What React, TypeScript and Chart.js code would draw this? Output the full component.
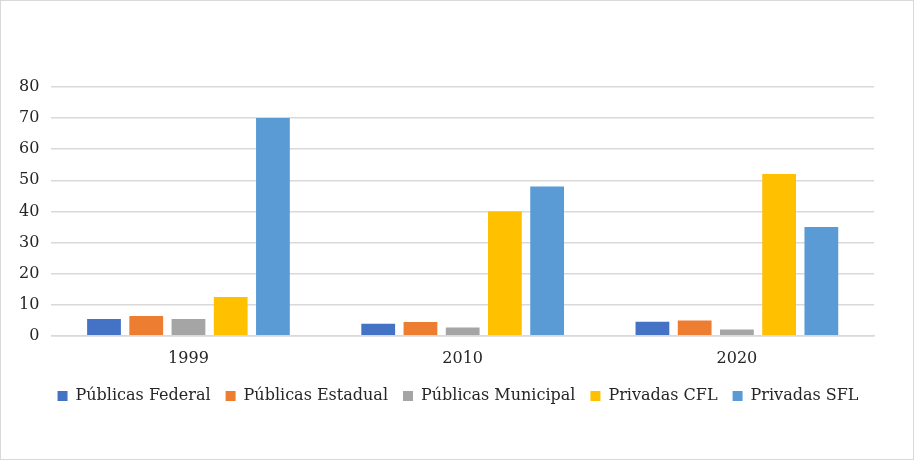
import React, { useEffect, useRef } from "react";
import { Chart, registerables } from "chart.js";

Chart.register(...registerables);

const categories = ["1999", "2010", "2020"];
const seriesNames = ["Públicas Federal", "Públicas Estadual", "Públicas Municipal", "Privadas CFL", "Privadas SFL"];
const publicasFederal = [5.4, 3.9, 4.5];
const publicasEstadual = [6.4, 4.4, 4.9];
const publicasMunicipal = [5.4, 2.7, 2.0];
const privadasCFL = [12.5, 40, 52];
const privadasSFL = [70, 48, 35];
const seriesColors = ["#4472c4", "#ed7d31", "#a5a5a5", "#ffc000", "#5b9bd5"];
const yTicks = [0, 10, 20, 30, 40, 50, 60, 70, 80];

export default function App() {
  const ref = useRef<HTMLCanvasElement | null>(null);
  useEffect(() => {
    if (!ref.current) return;
    const values = [publicasFederal, publicasEstadual, publicasMunicipal, privadasCFL, privadasSFL];
    const font = { family: "'DejaVu Serif', serif", size: 16 };
    const chart = new Chart(ref.current, {
      type: "bar",
      data: {
        labels: categories,
        datasets: seriesNames.map((name, i) => ({
          label: name,
          data: values[i],
          backgroundColor: seriesColors[i],
          borderWidth: 0,
          categoryPercentage: 0.77,
          barPercentage: 0.8,
        })),
      },
      options: {
        animation: false,
        responsive: false,
        layout: { padding: { top: 86, right: 4, left: 6, bottom: 45 } },
        plugins: {
          tooltip: { enabled: false },
          legend: {
            position: "bottom",
            labels: {
              font,
              color: "#262626",
              boxWidth: 10,
              boxHeight: 10,
              padding: 15,
            },
          },
        },
        scales: {
          x: {
            grid: { display: false },
            border: { color: "#d9d9d9", width: 1.5 },
            ticks: { font, color: "#262626", padding: 5 },
          },
          y: {
            min: 0,
            max: 80,
            afterBuildTicks: (axis: any) => {
              axis.ticks = yTicks.map((v) => ({ value: v }));
            },
            grid: { color: "#d9d9d9", lineWidth: 1.5, drawTicks: false },
            border: { display: false },
            ticks: { font, color: "#262626", padding: 12 },
          },
          yRight: {
            position: "right",
            min: 0,
            max: 80,
            grid: { display: false, drawTicks: false },
            border: { display: false },
            ticks: { display: false },
            afterFit: (axis: any) => {
              axis.width = 35;
            },
          },
        },
      },
    });
    return () => chart.destroy();
  }, []);
  return (
    <div
      style={{
        position: "fixed",
        left: 0,
        top: 0,
        width: 914,
        height: 460,
        boxSizing: "border-box",
        border: "1px solid #d9d9d9",
        background: "#fff",
      }}
    >
      <canvas ref={ref} width={912} height={458} style={{ display: "block" }} />
    </div>
  );
}
